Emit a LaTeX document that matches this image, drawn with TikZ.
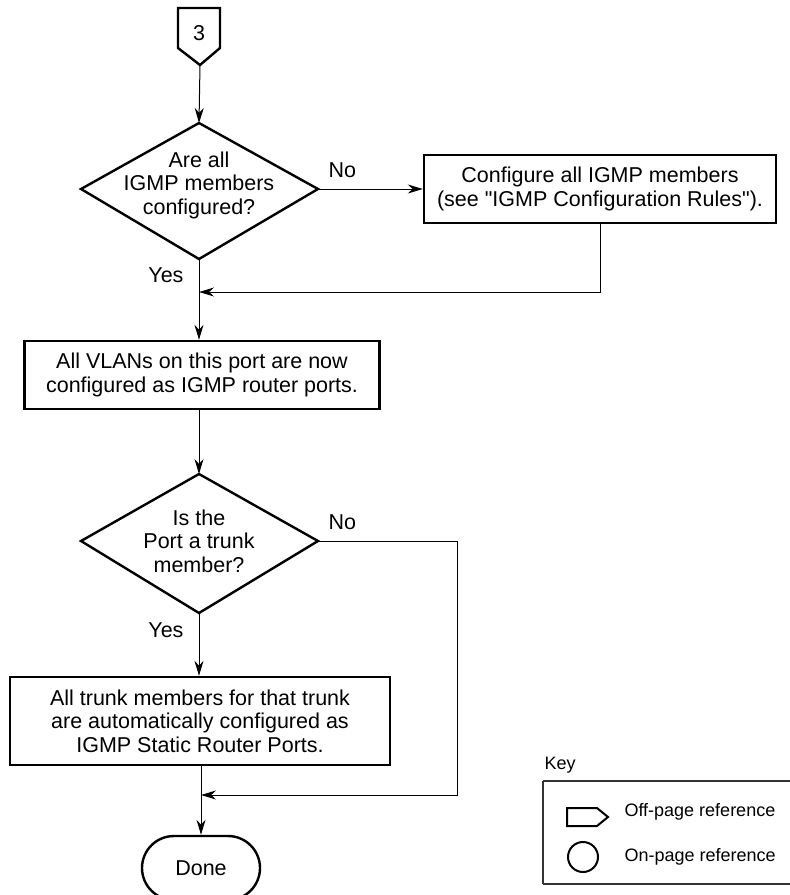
\documentclass[tikz,border=0pt]{standalone}
\usepackage{fontspec}
\setmainfont{Liberation Sans}[Ligatures=TeXOff]
\usetikzlibrary{shapes.geometric,shapes.misc,arrows.meta}
\begin{document}
\begin{tikzpicture}[x=1pt,y=-1pt,
  every node/.style={font=\fontsize{21.5}{23.5}\selectfont},
  boxst/.style={draw,line width=2.4pt,align=center,inner sep=0pt},
  shapeline/.style={line width=2.4pt},
  arr/.style={line width=1pt,-{Stealth[length=15pt,width=9pt]}},
  lbl/.style={font=\fontsize{21.5}{23.5}\selectfont},
  keytxt/.style={font=\fontsize{18}{21}\selectfont,anchor=west}]
\useasboundingbox (0,0) rectangle (790,895);
% off-page reference 3
\draw[shapeline] (178,8) -- (220,8) -- (220,48) -- (200,65) -- (178,48) -- cycle;
\node (ref) at (199,33) {3};
\coordinate (reftip) at (200,65);
% diamond 1
\draw[shapeline] (199,123) -- (318,189) -- (199,259) -- (81,189) -- cycle;
\coordinate (d1t) at (199,123);
\coordinate (d1r) at (318,189);
\coordinate (d1b) at (199,259);
\node[align=center] (d1) at (199,185) {Are all\\IGMP members\\configured?};
% box 1
\node[boxst,minimum width=352pt,minimum height=68pt] (b1) at (600,189) {Configure all IGMP members\\(see "IGMP Configuration Rules").};
% box 2
\node[boxst,minimum width=355pt,minimum height=68pt] (b2) at (202,375) {All VLANs on this port are now\\configured as IGMP router ports.};
% diamond 2
\draw[shapeline] (199,474) -- (318,541) -- (199,613) -- (81,541) -- cycle;
\coordinate (d2t) at (199,474);
\coordinate (d2r) at (318,541);
\coordinate (d2b) at (199,613);
\node[align=center] (d2) at (199,541) {Is the\\Port a trunk\\member?};
% box 3
\node[boxst,minimum width=380pt,minimum height=88pt] (b3) at (200,721) {All trunk members for that trunk\\are automatically configured as\\IGMP Static Router Ports.};
% done
\node[draw,line width=2.4pt,rounded rectangle,minimum width=118pt,minimum height=64pt,inner sep=0pt] (done) at (201,868) {Done};
% connectors
\draw[arr] (reftip) -- (d1t);
\draw[arr] (d1r) -- (b1.west |- d1r);
\node[lbl,anchor=west] (no1) at (325,170) {No};
\coordinate (m1) at (199,292);
\draw[arr] (b1.south) |- (m1);
\draw[arr] (d1b) -- (b2.north -| d1b);
\node[lbl,anchor=east] (yes1) at (187,275) {Yes};
\draw[arr] (b2.south -| d1b) -- (d2t);
\node[lbl,anchor=west] (no2) at (325,522) {No};
\coordinate (m2) at (201,795);
\draw[arr] (d2r) -| (457,795) -- (m2);
\draw[arr] (d2b) -- (b3.north -| d2b);
\node[lbl,anchor=east] (yes2) at (187,630) {Yes};
\draw[arr] (b3.south -| done.north) -- (done.north);
% key
\node[font=\fontsize{18}{21}\selectfont,anchor=west] (keyl) at (541,765) {Key};
\draw[line width=1.5pt,black!80] (543,781) -- (800,781) (543,884) -- (800,884) (543,781) -- (543,884);
\draw[line width=2pt] (567,808) -- (597,808) -- (608,817) -- (597,826) -- (567,826) -- cycle;
\node[draw,circle,line width=2pt,minimum size=30pt,inner sep=0pt] (kc) at (583,857) {};
\node[keytxt] (k1) at (621,812) {Off-page reference};
\node[keytxt] (k2) at (621,857) {On-page reference};
\end{tikzpicture}
\end{document}
